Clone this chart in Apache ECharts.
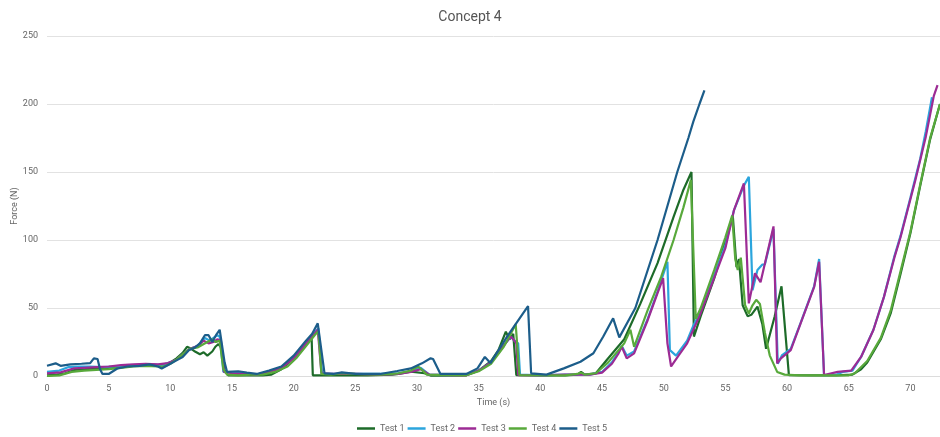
<!DOCTYPE html>
<html>
<head>
<meta charset="utf-8">
<title>Concept 4</title>
<script src="https://cdn.jsdelivr.net/npm/echarts@6/dist/echarts.min.js"></script>
<style>
  html, body { margin: 0; padding: 0; background: #ffffff; }
  #chart { width: 940px; height: 437px; }
</style>
</head>
<body>
<div id="chart"></div>
<script>
// Force readings per test run: time (s) and force (N)
const seriesNames = ['Test 1', 'Test 2', 'Test 3', 'Test 4', 'Test 5'];

const t1 = [0, 0.8, 1.5, 2.2, 3, 4, 5, 6, 7, 8, 8.5, 9.3, 10, 10.5, 11, 11.35, 11.7, 12.0, 12.4, 12.7, 13.0, 13.4, 13.65, 13.9, 14.1, 14.4, 14.7, 15.5, 16.5, 17.5, 18.2, 19, 19.5, 20.2, 21, 21.45, 21.55, 22, 24, 26, 28, 28.5, 29.5, 30.6, 31.1, 33, 34, 35, 36, 36.6, 37.2, 37.5, 37.8, 38.05, 40, 42, 43, 43.3, 43.6, 44.5, 45.4, 46.8, 48.1, 49.5, 50.8, 51.6, 52.25, 52.45, 53, 54.1, 55, 55.6, 55.9, 56.1, 56.4, 56.8, 57.1, 57.6, 58.0, 58.3, 59.0, 59.55, 60.15, 62, 64, 65.3, 66, 66.5, 67.6, 68.4, 69.2, 70.0, 70.8, 71.6, 72.4];
const f1 = [0.5, 1, 2, 4.4, 5, 5.5, 6, 7, 7.5, 8, 8, 7, 10, 13, 17, 21.5, 20, 18, 16, 17.5, 15, 18, 21.5, 23.5, 21, 4.4, 0.5, 0.5, 0.5, 0.5, 1, 5, 9, 15, 23, 29, 0.5, 0.5, 0.5, 0.5, 1, 1.5, 3.2, 2, 0.3, 0.3, 0.5, 4, 11, 19, 32.6, 27, 31, 0.7, 0.5, 0.5, 1, 3, 1, 2, 12, 27, 53, 83, 117, 137, 150, 29, 44, 72, 99, 118, 80, 86, 52, 44, 45, 51, 38, 20, 44, 66, 0.7, 0.5, 0.5, 1, 5, 10, 27, 46, 75, 105, 140, 174, 200];

const t2 = [0, 1, 1.7, 2.5, 3.5, 4.5, 5.5, 6.5, 7.5, 8.5, 9.3, 10, 10.5, 11, 11.6, 12.2, 12.8, 13.2, 13.8, 14.0, 14.3, 15, 16, 17, 18, 19, 20, 21, 21.6, 22.0, 22.3, 23, 25, 27, 28.5, 29.5, 30.3, 31, 33, 34, 35, 36, 37, 37.6, 37.9, 38.2, 38.35, 40, 42, 44, 45, 45.8, 46.3, 46.6, 47.0, 47.6, 48.7, 49.5, 50.3, 50.5, 51, 51.9, 52.4, 52.9, 54, 55, 55.7, 56.5, 56.9, 57.2, 57.6, 58.0, 58.2, 58.9, 59.25, 59.6, 60.3, 61.1, 62.2, 62.6, 63.0, 64, 64.5, 65.3, 66, 67, 67.85, 68.7, 69.2, 70, 70.8, 71.25, 71.75];
const f2 = [3, 4, 6.5, 7, 7, 6.5, 7, 7.5, 8, 8.5, 8, 10, 12, 16, 20, 22, 28, 26, 30, 29, 3, 2.5, 2, 1, 3, 6.5, 14, 24, 31, 35, 2, 1.5, 1.5, 1.5, 2, 3.5, 6, 1, 0.5, 1, 4, 10, 22, 29, 26, 24, 1, 0.5, 1, 1, 3, 10, 17, 22, 15, 18, 42, 62, 84, 19, 15, 26, 37, 46, 72, 96, 122, 140, 146.5, 63, 78, 82, 82, 108, 9, 15.4, 20, 39, 66, 86, 0.7, 1, 3, 4, 14, 34, 58, 88, 103, 131, 160, 180, 205];

const t3 = [0, 1.1, 2.2, 3, 4, 5, 6, 7, 8, 9, 9.8, 10.5, 11, 11.6, 12.2, 12.7, 13.1, 13.5, 13.8, 14.1, 14.35, 15, 16, 17, 18, 19, 20, 21, 21.6, 21.95, 22.25, 23, 25, 27, 28.5, 29.5, 30.3, 31, 33, 34, 35, 36, 37, 37.6, 37.85, 38.05, 38.2, 40, 42, 44, 45, 45.8, 46.3, 46.6, 47.0, 47.6, 48.7, 49.5, 49.95, 50.3, 50.6, 51.2, 51.9, 52.4, 52.9, 54, 55, 55.7, 56.5, 56.9, 57.4, 57.85, 58.9, 59.2, 59.5, 60.3, 61.1, 62.2, 62.6, 63.0, 64.1, 65.2, 66, 67, 67.85, 68.7, 69.2, 70.4, 71.25, 71.9, 72.2];
const f3 = [2, 2.7, 5.6, 6, 6.5, 7, 8, 8.5, 9, 8.5, 9.5, 12, 16, 20, 22, 26, 24, 25, 27, 26, 3, 2, 1.5, 1, 3, 6, 13, 24, 30, 34, 2, 1.5, 1.5, 1, 1.5, 3, 5, 1, 0.5, 0.5, 4, 10, 22, 29, 26.5, 24, 0.7, 0.5, 1, 1, 2.5, 9, 16, 21.5, 13, 16.6, 41, 61, 72, 24, 7, 15, 24, 34, 44, 70, 94, 122, 141.6, 53.4, 75.5, 69, 110, 9.3, 13, 19, 38.7, 65.6, 84, 0.7, 3, 4, 14, 33.8, 58, 87, 102, 144, 176, 206, 213.8];

const t4 = [0, 1, 2, 3, 4, 5, 6, 7, 8, 9, 9.5, 10, 10.5, 11, 11.6, 12.2, 12.6, 13.0, 13.4, 13.7, 14.0, 14.3, 14.6, 15.5, 16.5, 17.5, 18.5, 19.5, 20.2, 21, 21.7, 22.0, 22.25, 23, 24, 25, 27, 28.5, 29.5, 30.1, 30.8, 33, 34, 35, 36, 37, 37.6, 38.0, 38.3, 40, 42, 43, 43.3, 43.6, 44.5, 45.5, 46.8, 47.3, 47.6, 48.7, 49.8, 50.8, 51.6, 52.2, 52.6, 53, 54.1, 55, 55.55, 55.8, 56.0, 56.25, 56.6, 56.9, 57.2, 57.5, 57.8, 58.2, 58.6, 59.2, 59.8, 61, 63, 65, 65.5, 66.5, 67.6, 68.4, 69.2, 70, 70.8, 71.6, 72.4];
const f4 = [0, 0.5, 3, 4, 4.5, 5, 6, 7, 7.5, 7, 7, 9, 12, 16, 20, 21, 23, 25, 27, 25, 26, 5, 1, 0.5, 1, 1, 3, 7, 13, 22, 30, 33, 1.5, 1, 2, 1.5, 1, 2, 4, 7, 1, 0.5, 0.5, 3.5, 9, 21, 31, 38, 0.7, 0.5, 0.5, 1.5, 2.5, 1, 2, 10, 24, 34, 21.5, 48.5, 73, 100, 124, 144, 42, 50, 78, 102, 118, 86, 78, 87, 52, 46, 52, 56, 53, 32, 15, 3, 1, 0.5, 0.5, 0.5, 2, 11, 28, 48, 77, 106, 141, 175, 200];

const t5 = [0, 0.7, 1.1, 1.9, 2.8, 3.5, 3.8, 4.1, 4.3, 4.5, 5.0, 5.7, 6.5, 7.5, 8.3, 9.0, 9.3, 10, 10.5, 11, 11.5, 12.0, 12.4, 12.8, 13.1, 13.4, 13.7, 14.0, 14.4, 14.6, 15.5, 16.2, 17, 18, 19, 20, 21, 21.5, 21.95, 22.5, 23.2, 23.9, 25, 27, 28.4, 29.5, 30.4, 31.1, 31.3, 31.9, 34.0, 34.9, 35.5, 35.95, 37.3, 39.0, 39.25, 40.5, 41.9, 43.25, 44.3, 45.1, 45.9, 46.4, 47.7, 49.5, 51.1, 52.0, 52.4, 52.9, 53.3];
const f5 = [7.5, 9.3, 7.5, 8.5, 9, 9.5, 13, 12.5, 5, 1.5, 1.5, 5.5, 7, 7.5, 8.5, 7, 5.5, 9, 11.5, 14, 19, 21, 24, 30, 30, 25, 30, 34, 10, 3, 3.5, 2.5, 1.5, 4, 7, 15, 26, 31, 38.7, 2, 1.5, 2.7, 1.5, 1.5, 3.7, 5.6, 9.3, 13, 12.5, 1.5, 1.5, 5.6, 14, 9.5, 29, 51.4, 2, 1, 5.6, 10.5, 16.7, 29, 42.4, 28.4, 50, 100, 150, 175, 187, 200, 210];

const times = [t1, t2, t3, t4, t5];
const forces = [f1, f2, f3, f4, f5];
const colors = ['#1d6b29', '#2ba5dd', '#9c2b94', '#58a93b', '#1c5d8a'];

// Axis ticks
const yTicks = [0, 50, 100, 150, 200, 250];
const xTickStep = 5;

const labelFont = 'Roboto, "Noto Sans", Arial, sans-serif';

const chart = echarts.init(document.getElementById('chart'), null, { renderer: 'canvas' });

const series = seriesNames.map((name, i) => ({
  name: name,
  type: 'line',
  data: times[i].map((t, k) => [t, forces[i][k]]),
  showSymbol: false,
  symbol: 'none',
  smooth: false,
  lineStyle: { width: 2.2, color: colors[i] },
  itemStyle: { color: colors[i] },
  emphasis: { disabled: true },
  animation: false
}));

chart.setOption({
  backgroundColor: '#ffffff',
  animation: false,
  title: {
    text: 'Concept 4',
    left: 'center',
    top: 5,
    textStyle: { fontFamily: labelFont, fontSize: 14, fontWeight: 'normal', color: '#555' }
  },
  legend: {
    data: seriesNames,
    top: 419,
    left: 352,
    icon: 'rect',
    itemWidth: 18,
    itemHeight: 2.5,
    itemGap: 3,
    textStyle: { fontFamily: labelFont, fontSize: 9, color: '#666' }
  },
  grid: { left: 47, right: 0, top: 36, bottom: 61, containLabel: false, outerBoundsMode: 'none' },
  xAxis: {
    type: 'value',
    min: 0,
    max: 72.4,
    interval: xTickStep,
    name: 'Time (s)',
    nameLocation: 'middle',
    nameGap: 22,
    nameMoveOverlap: false,
    nameTextStyle: { fontFamily: labelFont, fontSize: 9, color: '#666' },
    axisLine: { show: true, lineStyle: { color: '#dcdcdc', width: 1 } },
    axisTick: { show: false },
    splitLine: { show: false },
    axisLabel: { showMaxLabel: false, fontFamily: labelFont, fontSize: 9, color: '#666', margin: 8 }
  },
  yAxis: {
    type: 'value',
    min: yTicks[0],
    max: yTicks[yTicks.length - 1],
    interval: yTicks[1] - yTicks[0],
    name: 'Force (N)',
    nameLocation: 'middle',
    nameGap: 28,
    nameMoveOverlap: false,
    nameTextStyle: { fontFamily: labelFont, fontSize: 9, color: '#666' },
    axisLine: { show: false },
    axisTick: { show: false },
    splitLine: { show: true, lineStyle: { color: '#e2e2e2', width: 1 } },
    axisLabel: { fontFamily: labelFont, fontSize: 9, color: '#666', margin: 9 }
  },
  series: series
});
</script>
</body>
</html>
